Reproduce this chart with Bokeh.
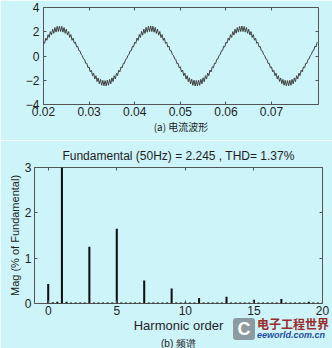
from bokeh.plotting import figure
from bokeh.models import Range1d, LinearAxis, FixedTicker, Title, Div
from bokeh.embed import file_html
from bokeh.resources import INLINE

# ---------------- data ----------------
# sampled current waveform (A), read from the picture, sample step DT starting at T0
T0 = 0.02
DT = 0.00025
cycle_1 = [1.14, 1.05, 1.47, 1.30, 1.76, 1.53, 2.01, 1.73, 2.21, 1.87,
           2.35, 1.97, 2.44, 2.02, 2.47, 2.02, 2.44, 1.97, 2.35, 1.87,
           2.21, 1.73, 2.01, 1.53, 1.76, 1.30, 1.47, 1.05, 1.14, 0.75,
           0.80, 0.45, 0.42, 0.13, 0.04, -0.23, -0.28, -0.61, -0.60, -0.97,
           -0.90, -1.31, -1.17, -1.62, -1.42, -1.89, -1.63, -2.11, -1.81, -2.29,
           -1.93, -2.41, -2.00, -2.46, -2.03, -2.46, -2.00, -2.41, -1.93, -2.29,
           -1.81, -2.11, -1.63, -1.89, -1.42, -1.62, -1.17, -1.31, -0.90, -0.97,
           -0.60, -0.61, -0.28, -0.23, 0.04, 0.13, 0.42, 0.45, 0.80, 0.75]
cycle_2 = [1.15, 1.04, 1.48, 1.29, 1.77, 1.52, 2.02, 1.72, 2.22, 1.86,
           2.36, 1.96, 2.45, 2.01, 2.48, 2.01, 2.45, 1.96, 2.36, 1.86,
           2.22, 1.72, 2.02, 1.52, 1.77, 1.29, 1.48, 1.04, 1.15, 0.74,
           0.81, 0.44, 0.43, 0.12, 0.05, -0.24, -0.27, -0.62, -0.59, -0.98,
           -0.89, -1.32, -1.16, -1.63, -1.41, -1.90, -1.62, -2.12, -1.80, -2.30,
           -1.92, -2.42, -1.99, -2.47, -2.02, -2.47, -1.99, -2.42, -1.92, -2.30,
           -1.80, -2.12, -1.62, -1.90, -1.41, -1.63, -1.16, -1.32, -0.89, -0.98,
           -0.59, -0.62, -0.27, -0.24, 0.05, 0.12, 0.43, 0.44, 0.81, 0.74]
cycle_3 = [1.14, 1.05, 1.47, 1.30, 1.76, 1.53, 2.01, 1.73, 2.21, 1.87,
           2.35, 1.97, 2.44, 2.02, 2.47, 2.02, 2.44, 1.97, 2.35, 1.87,
           2.21, 1.73, 2.01, 1.53, 1.76, 1.30, 1.47, 1.05, 1.14, 0.75,
           0.80, 0.45, 0.42, 0.13, 0.04, -0.23, -0.28, -0.61, -0.60, -0.97,
           -0.90, -1.31, -1.17, -1.62, -1.42, -1.89, -1.63, -2.11, -1.81, -2.29,
           -1.93, -2.41, -2.00, -2.46, -2.03, -2.46, -2.00, -2.41, -1.93, -2.29,
           -1.81, -2.11, -1.63, -1.89, -1.42, -1.62, -1.17, -1.31, -0.90, -0.97,
           -0.60, -0.61, -0.28, -0.23, 0.04, 0.13, 0.42, 0.45, 0.80, 0.75]
current = cycle_1 + cycle_2 + cycle_3 + [1.14]
time = [T0 + DT * i for i in range(len(current))]

wave_xticks = [0.02, 0.03, 0.04, 0.05, 0.06, 0.07]
wave_yticks = [-4, -2, 0, 2, 4]

# FFT spectrum: harmonic order in steps of 1/3, magnitude in % of fundamental
harmonic_order = [round(k / 3, 4) for k in range(61)]
mag = [0.43, 0.03, 0.04, 100.0, 0.04, 0.02, 0.02, 0.02, 0.02, 1.25,
       0.02, 0.02, 0.02, 0.02, 0.02, 1.65, 0.02, 0.02, 0.02, 0.02,
       0.02, 0.51, 0.02, 0.02, 0.02, 0.02, 0.02, 0.33, 0.02, 0.02,
       0.03, 0.02, 0.02, 0.12, 0.02, 0.02, 0.02, 0.02, 0.02, 0.15,
       0.02, 0.02, 0.02, 0.02, 0.02, 0.08, 0.02, 0.02, 0.02, 0.02,
       0.02, 0.10, 0.02, 0.02, 0.02, 0.02, 0.02, 0.04, 0.02, 0.02,
       0.02]
spec_xticks = [0, 5, 10, 15, 20]
spec_yticks = [0, 1, 2, 3]

title_text = "Fundamental (50Hz) = 2.245 , THD= 1.37%"
caption_a = "(a) 电流波形"
caption_b = "(b) 频谱"
xlabel_b = "Harmonic order"
ylabel_b = "Mag (% of Fundamental)"

# ---------------- style ----------------
BG = "#cdf4f8"
TXT = "#1e1e1e"
FRAME = "#555555"
FONT = "Liberation Sans"
CJK = "Noto Sans CJK SC"


def style_axis(ax, ticks, size="12px"):
    ax.ticker = FixedTicker(ticks=ticks)
    ax.axis_line_color = None
    ax.major_tick_in = 3
    ax.major_tick_out = 0
    ax.major_tick_line_color = FRAME
    ax.minor_tick_line_color = None
    ax.major_label_text_font = FONT
    ax.major_label_text_font_size = size
    ax.major_label_text_color = TXT
    ax.axis_label_text_font = FONT
    ax.axis_label_text_font_style = "normal"
    ax.axis_label_text_color = TXT


def mirror(p, xt, yt):
    ra = LinearAxis()
    ta = LinearAxis()
    for a, ticks in ((ra, yt), (ta, xt)):
        style_axis(a, ticks)
        a.major_label_text_font_size = "0px"
        a.major_label_text_color = None
        a.major_label_standoff = 0
    p.add_layout(ra, "right")
    p.add_layout(ta, "above")


# ---------------- (a) waveform ----------------
p1 = figure(width=332, height=140, output_backend="svg", toolbar_location=None,
            x_range=Range1d(0.02, 0.0803), y_range=Range1d(-4, 4),
            min_border_left=43, min_border_right=14, min_border_top=7,
            min_border_bottom=36)
p1.background_fill_color = BG
p1.border_fill_color = BG
p1.outline_line_color = FRAME
p1.grid.visible = False
p1.line(time, current, line_color="#404040", line_width=1)
style_axis(p1.xaxis[0], wave_xticks)
style_axis(p1.yaxis[0], wave_yticks)
p1.xaxis[0].major_label_standoff = 2
p1.yaxis[0].major_label_standoff = 4
p1.xaxis[0].axis_label = caption_a
p1.xaxis[0].axis_label_text_font = CJK
p1.xaxis[0].axis_label_text_font_size = "10px"
p1.xaxis[0].axis_label_standoff = 0
mirror(p1, wave_xticks, wave_yticks)

# ---------------- (b) spectrum ----------------
p2 = figure(width=332, height=208, output_backend="svg", toolbar_location=None,
            x_range=Range1d(-1, 20), y_range=Range1d(0, 3),
            min_border_left=34, min_border_right=10, min_border_top=27,
            min_border_bottom=42)
p2.background_fill_color = BG
p2.border_fill_color = BG
p2.outline_line_color = FRAME
p2.grid.visible = False
p2.title.text = title_text
p2.title.align = "center"
p2.title.text_font = FONT
p2.title.text_font_size = "12px"
p2.title.text_font_style = "normal"
p2.title.text_color = TXT
p2.vbar(x=harmonic_order, top=mag, width=0.15, bottom=0,
        fill_color="#111111", line_color=None)
style_axis(p2.xaxis[0], spec_xticks)
style_axis(p2.yaxis[0], spec_yticks)
p2.xaxis[0].major_label_standoff = 2
p2.yaxis[0].major_label_standoff = 3
p2.xaxis[0].axis_label = xlabel_b
p2.xaxis[0].axis_label_text_font_size = "13px"
p2.xaxis[0].axis_label_standoff = 0
p2.yaxis[0].axis_label = ylabel_b
p2.yaxis[0].axis_label_text_font_size = "11px"
p2.yaxis[0].axis_label_standoff = 1
mirror(p2, spec_xticks, spec_yticks)
p2.add_layout(Title(text=caption_b, align="center", text_font=FONT,
                    text_font_size="10px", text_font_style="normal",
                    text_color=TXT, standoff=0, offset=0), "below")

# watermark seen on the reference, laid over the lower right corner
mark = Div(text=(
    '<div style="display:flex;align-items:center;gap:2px;white-space:nowrap">'
    '<div style="width:22px;height:22px;border-radius:3px;background:#8c9ba1;'
    'color:#fff;font:bold 18px Liberation Sans;text-align:center;line-height:22px">C</div>'
    '<div><div style="font:bold 12px Noto Sans CJK SC;color:#9b2c2c;line-height:13px">电子工程世界</div>'
    '<div style="font:italic bold 9px Liberation Sans;color:#1f4f9c;line-height:11px">eeworld.com.cn</div></div>'
    '</div>'),
    width=104, height=26,
    styles={"position": "absolute", "left": "228px", "top": "312px"})

html = file_html([p1, p2, mark], INLINE)
html = html.replace("<body>", '<body style="margin:0;background:%s">' % BG, 1)
open("out.html", "w").write(html)
